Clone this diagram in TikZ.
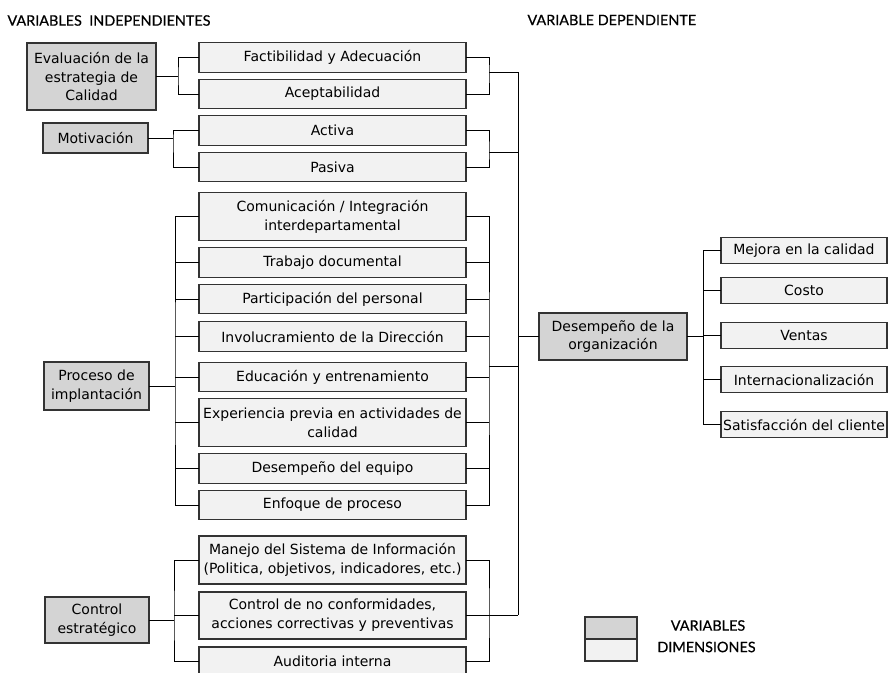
\documentclass[tikz,border=0pt]{standalone}
\usepackage{fontspec}
\setmainfont{DejaVu Sans}
\newfontfamily\titulo[FakeBold=0.6]{Lato}
\usetikzlibrary{positioning}

\begin{document}
\begin{tikzpicture}[x=1pt, y=-1pt, node distance=7pt, line width=1pt,
                    caja/.style={draw=black!80, line width=1.3pt, outer sep=0pt, inner sep=0pt,
                                 align=center, font=\fontsize{14}{18.8}\selectfont},
                    var/.style={caja, fill=black!17},
                    dim/.style={caja, fill=black!5, minimum width=267pt, minimum height=29.5pt},
                    dimd/.style={dim, minimum height=48pt},
                    dep/.style={caja, fill=black!5, minimum width=166pt, minimum height=26pt},
                    rotulo/.style={font=\titulo\fontsize{14.4}{16}\selectfont, inner sep=0pt}]
\useasboundingbox (0,0) rectangle (888,672);
\clip (0,0) rectangle (888,672);

\node[rotulo, anchor=west] (HI) at (7,20.5) {VARIABLES\ \ INDEPENDIENTES};
\node[rotulo, anchor=west] (HD) at (527,20) {VARIABLE DEPENDIENTE};

\node[var, minimum width=129pt, minimum height=67pt] (EV) at (91.5,76.5) {Evaluación de la\\estrategia de\\Calidad};
\node[var, minimum width=105pt, minimum height=30pt] (MO) at (95.5,138) {Motivación};
\node[var, minimum width=105pt, minimum height=48pt] (PR) at (96.5,386) {Proceso de\\implantación};
\node[var, minimum width=104pt, minimum height=46pt] (CO) at (97,620) {Control\\estratégico};
\node[var, minimum width=148pt, minimum height=47pt] (DE) at (613,336.5) {Desempeño de la\\organización};

\node[dim] (EV1) at (332.5,57.5) {Factibilidad y Adecuación};
\node[dim] (EV2) [below=of EV1] {Aceptabilidad};
\node[dim] (MO1) [below=of EV2] {Activa};
\node[dim] (MO2) [below=of MO1] {Pasiva};
\node[dimd] (PR1) [below=11pt of MO2] {Comunicación / Integración\\interdepartamental};
\node[dim] (PR2) [below=of PR1] {Trabajo documental};
\node[dim] (PR3) [below=of PR2] {Participación del personal};
\node[dim] (PR4) [below=8pt of PR3] {Involucramiento de la Dirección};
\node[dim] (PR5) [below=11pt of PR4] {Educación y entrenamiento};
\node[dimd] (PR6) [below=of PR5] {Experiencia previa en actividades de\\calidad};
\node[dim] (PR7) [below=of PR6] {Desempeño del equipo};
\node[dim] (PR8) [below=of PR7] {Enfoque de proceso};
\node[dimd] (CO1) at (332.5,560) {Manejo del Sistema de Información\\(Politica, objetivos, indicadores, etc.)};
\node[dimd, minimum height=47pt] (CO2) [below=8pt of CO1] {Control de no conformidades,\\acciones correctivas y preventivas};
\node[dim] (CO3) [below=8pt of CO2] {Auditoria interna};

\node[dep] (DE1) at (804,250.5) {Mejora en la calidad};
\node[dep] (DE2) [below=14pt of DE1] {Costo};
\node[dep] (DE3) [below=19pt of DE2] {Ventas};
\node[dep] (DE4) [below=18pt of DE3] {Internacionalización};
\node[dep] (DE5) [below=19pt of DE4] {Satisfacción del cliente};

\node[var, minimum width=52pt, minimum height=22pt] (LV) at (611,628) {};
\node[caja, fill=black!5, minimum width=52pt, minimum height=22pt] (LD) [below=0pt of LV] {};
\node[rotulo] (LVt) at (708,625.5) {VARIABLES};
\node[rotulo] (LDt) at (706.5,647) {DIMENSIONES};

\coordinate (L1) at (178,76.5);
\coordinate (L2) at (173,138);
\coordinate (L3) at (175,386);
\coordinate (L4) at (174,620);
\coordinate (R1) at (489,72);
\coordinate (R2) at (489,152);
\coordinate (R3) at (489,366);
\coordinate (R4) at (489,615);
\coordinate (M0) at (518,72);
\coordinate (M1) at (518,615);
\coordinate (R5) at (703,336.5);

\draw (EV) -- (L1);
\draw (EV1.west) -| (L1) |- (EV2.west);
\draw (MO) -- (L2);
\draw (MO1.west) -| (L2) |- (MO2.west);
\draw (PR) -- (L3);
\draw (PR1.west) -| (L3) |- (PR8.west);
\draw (CO) -- (L4);
\draw (CO1.west) -| (L4) |- (CO3.west);
\foreach \n in {PR2,PR3,PR4,PR5,PR6,PR7}
  \draw (\n.west) -- (\n.west -| L3);
\draw (CO2.west) -- (CO2.west -| L4);

\draw (EV1.east) -| (R1) |- (EV2.east);
\draw (MO1.east) -| (R2) |- (MO2.east);
\draw (PR1.east) -| (R3) |- (PR8.east);
\draw (CO1.east) -| (R4) |- (CO3.east);
\foreach \n in {PR2,PR3,PR4,PR5,PR6,PR7}
  \draw (\n.east) -- (\n.east -| R3);
\draw (CO2.east) -- (CO2.east -| R4);
\foreach \r in {R1,R2,R3,R4}
  \draw (\r) -- (\r -| M0);
\draw (M0) -- (M1);

\draw (DE) -- (DE -| M0);
\draw (DE) -- (R5);
\draw (DE1.west) -| (R5) |- (DE5.west);
\foreach \n in {DE2,DE3,DE4}
  \draw (\n.west) -- (\n.west -| R5);
\end{tikzpicture}
\end{document}
